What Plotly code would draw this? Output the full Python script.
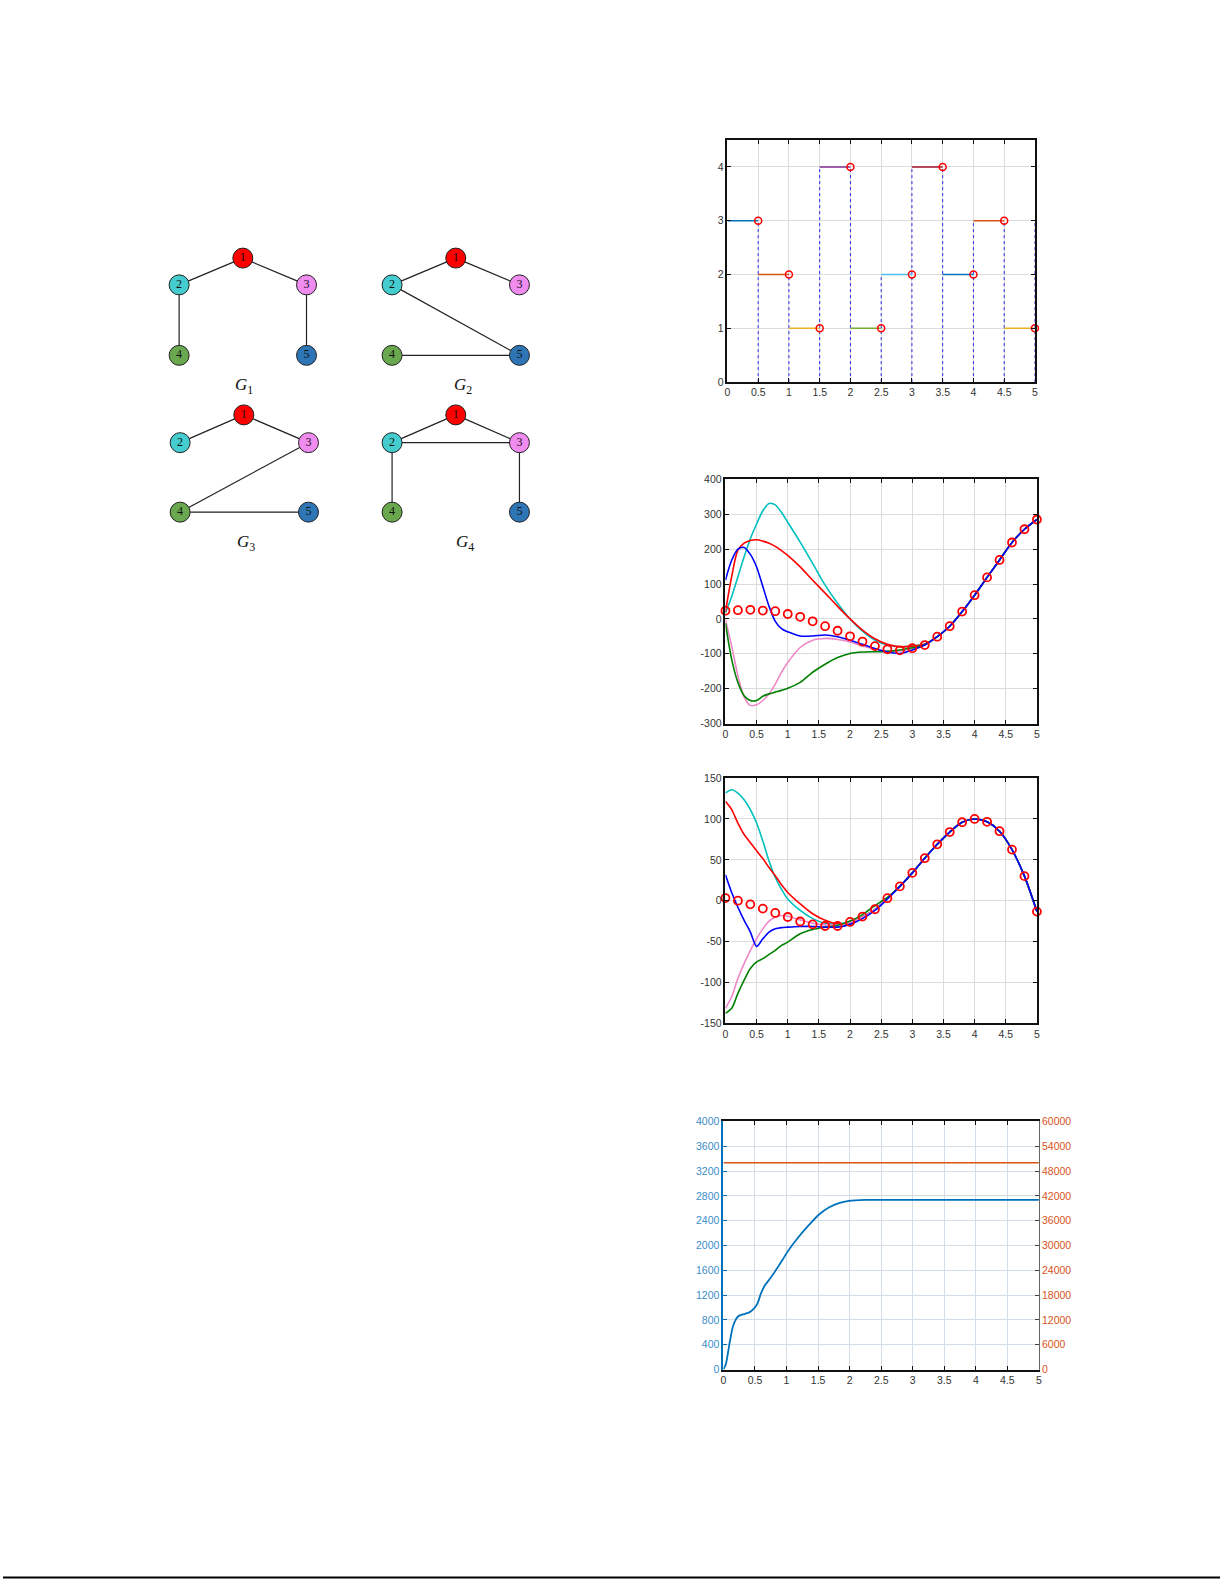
import plotly.graph_objects as go

W, H = 1225, 1585

# ---------------- graph panel data ----------------
node_ids = ["1", "2", "3", "4", "5"]
node_colors = ["#FF0000", "#45CCCF", "#F08CF0", "#6AA84F", "#2E75B6"]
G1_pos = [(241, 254), (177, 281), (305, 281), (177, 352), (305, 352)]
G2_pos = [(455, 254), (391, 281), (519, 281), (391, 352), (519, 352)]
G3_pos = [(242, 412), (178, 440), (307, 440), (178, 510), (307, 510)]
G4_pos = [(455, 412), (391, 440), (519, 440), (391, 510), (519, 510)]
G1_edges = [(1, 2), (1, 3), (2, 4), (3, 5)]
G2_edges = [(1, 2), (1, 3), (2, 5), (4, 5)]
G3_edges = [(1, 2), (1, 3), (3, 4), (4, 5)]
G4_edges = [(1, 2), (1, 3), (2, 3), (2, 4), (3, 5)]
graph_labels = ["1", "2", "3", "4"]
graph_label_pos = [(242, 383), (462, 383), (244, 541), (464, 541)]

# ---------------- chart 1: switching signal ----------------
seg_start = [0, 0.5, 1, 1.5, 2, 2.5, 3, 3.5, 4, 4.5]
seg_end = [0.5, 1, 1.5, 2, 2.5, 3, 3.5, 4, 4.5, 5]
seg_level = [3, 2, 1, 4, 1, 2, 4, 2, 3, 1]
seg_colors = ["#0072BD", "#D95319", "#EDB120", "#7E2F8E", "#77AC30",
              "#4DBEEE", "#A2142F", "#0072BD", "#D95319", "#EDB120"]
stem_x = [0.5, 1, 1.5, 2, 2.5, 3, 3.5, 4, 4.5, 5]
stem_top = [3, 2, 4, 4, 2, 4, 4, 3, 3, 3]
c1_yticks = [0, 1, 2, 3, 4]

# ---------------- chart 2 ----------------
ref_x = [0, 0.2, 0.4, 0.6, 0.8, 1.0, 1.2, 1.4, 1.6, 1.8, 2.0, 2.2, 2.4,
         2.6, 2.8, 3.0, 3.2, 3.4, 3.6, 3.8, 4.0, 4.2, 4.4, 4.6, 4.8, 5.0]
ref2_y = [23.5, 25, 26, 24, 22, 14, 6, -7, -21, -34, -50, -65, -78,
          -87, -90, -84, -75, -51, -21, 21, 68, 119, 169, 219, 257, 285]
c2_x = [0, 0.1, 0.2, 0.3, 0.4, 0.5, 0.6, 0.7, 0.8, 0.9, 1.0, 1.2, 1.4, 1.6,
        1.8, 2.0, 2.2, 2.4, 2.6, 2.8, 3.0, 3.2, 3.4, 3.6, 3.8, 4.0, 4.2,
        4.4, 4.6, 4.8, 5.0]
tail2 = [-51, -21, 21, 68, 119, 169, 219, 257, 285]
blue2 = [111, 168, 200, 205, 185, 149, 93, 36, -7, -28, -37, -49, -49, -46,
         -51, -61, -73, -85, -95, -99, -89, -75] + tail2
red2 = [20, 121, 197, 217, 225, 227, 223, 217, 208, 196, 182, 149, 111, 74,
        36, 0, -32, -57, -73, -80, -78, -72] + tail2
cyan2 = [17, 64, 121, 178, 230, 272, 310, 331, 327, 305, 277, 220, 159, 97,
         45, 0, -35, -61, -75, -80, -78, -72] + tail2
pink2 = [-2, -78, -163, -224, -248, -246, -234, -215, -187, -153, -125, -82,
         -61, -56, -59, -66, -78, -87, -92, -92, -85, -75] + tail2
green2 = [-12, -116, -182, -220, -234, -234, -222, -215, -210, -205, -199,
          -182, -153, -130, -111, -99, -95, -94, -93, -89, -83, -74] + tail2
c2_yticks = [-300, -200, -100, 0, 100, 200, 300, 400]

# ---------------- chart 3 ----------------
ref3_y = [3.2, 0, -4.5, -9.7, -15, -20, -25.5, -29, -31, -31, -26, -19.5,
          -10.5, 3, 17.5, 34, 52, 69, 84, 96, 100, 96.5, 85, 62.5, 30, -13.4]
c3_x = [0, 0.1, 0.2, 0.3, 0.4, 0.5, 0.6, 0.7, 0.8, 0.9, 1.0, 1.2, 1.4, 1.6,
        1.8, 2.0, 2.2, 2.4, 2.6, 2.8, 3.0, 3.2, 3.4, 3.6, 3.8, 4.0, 4.2,
        4.4, 4.6, 4.8, 5.0]
tail3 = [17.5, 34, 52, 69, 84, 96, 100, 96.5, 85, 62.5, 30, -13.4]
blue3 = [31.6, 10, -8, -24, -38.5, -56, -46.6, -38.5, -34.5, -33, -32.4,
         -31.6, -31.6, -32.4, -32.4, -29, -22, -12, 2] + tail3
red3 = [121.6, 111.5, 95, 81, 71, 61, 51.5, 40.5, 30.4, 19.5, 10, -4, -16,
        -24, -28.4, -27.6, -20, -11, 3] + tail3
cyan3 = [131.7, 135.8, 131.7, 123.6, 111.5, 95, 73, 48.6, 28.4, 14, 2, -12,
         -22, -27.6, -28.4, -26.3, -19.5, -10.5, 3] + tail3
pink3 = [-131.7, -117.6, -95, -77, -60.8, -46.6, -34.5, -25, -20.3, -18.2,
         -19, -23.5, -27.6, -29.6, -29.6, -26.8, -20, -11, 3] + tail3
green3 = [-137.8, -131.7, -113.5, -97.3, -83, -75, -71, -65.7, -60.8, -54.7,
          -50.7, -40.5, -35.3, -32.4, -30, -25, -17, -6, 4] + tail3
c3_yticks = [-150, -100, -50, 0, 50, 100, 150]

# ---------------- chart 4 ----------------
c4_x = [0, 0.04, 0.095, 0.147, 0.2, 0.25, 0.33, 0.41, 0.49, 0.54, 0.59,
        0.65, 0.73, 0.83, 0.94, 1.04, 1.2, 1.36, 1.51, 1.67, 1.83, 1.99,
        2.25, 3.0, 4.0, 5.0]
c4_y = [0, 96, 416, 683, 816, 870, 896, 923, 992, 1067, 1216, 1349, 1456,
        1600, 1776, 1936, 2149, 2336, 2496, 2613, 2683, 2720, 2736, 2736,
        2736, 2736]
c4r_x = [0, 5]
c4r_y = [50000, 50000]
c4_lticks = [0, 400, 800, 1200, 1600, 2000, 2400, 2800, 3200, 3600, 4000]
c4_rticks = [0, 6000, 12000, 18000, 24000, 30000, 36000, 42000, 48000, 54000, 60000]

x_ticks = [0, 0.5, 1, 1.5, 2, 2.5, 3, 3.5, 4, 4.5, 5]
x_ticktext = ["0", "0.5", "1", "1.5", "2", "2.5", "3", "3.5", "4", "4.5", "5"]

BLUE_M = "#0072BD"
ORANGE_M = "#D95319"

fig = go.Figure()


def dom_x(a, b):
    return [a / W, b / W]


def dom_y(top, bottom):
    return [1 - bottom / H, 1 - top / H]


def lbl(v):
    return str(v).replace("\u2212", "-")


# ---------- graph panel ----------
graphs = [(G1_pos, G1_edges), (G2_pos, G2_edges), (G3_pos, G3_edges), (G4_pos, G4_edges)]
for pos, edges in graphs:
    ex, ey = [], []
    for a, b in edges:
        ex += [pos[a - 1][0], pos[b - 1][0], None]
        ey += [pos[a - 1][1], pos[b - 1][1], None]
    fig.add_trace(go.Scatter(x=ex, y=ey, mode="lines", xaxis="x5", yaxis="y5",
                             line=dict(color="#222222", width=1.2),
                             showlegend=False, hoverinfo="skip"))
    fig.add_trace(go.Scatter(x=[p[0] for p in pos], y=[p[1] for p in pos],
                             mode="markers+text", xaxis="x5", yaxis="y5",
                             text=node_ids, textposition="middle center",
                             textfont=dict(family="Liberation Serif", size=12, color="#111111"),
                             marker=dict(size=20, color=node_colors,
                                         line=dict(color="#222222", width=1)),
                             showlegend=False, hoverinfo="skip"))

for lab, (lx, ly) in zip(graph_labels, graph_label_pos):
    fig.add_annotation(x=lx, y=ly, xref="x5", yref="y5", showarrow=False,
                       text=f"<i>G</i><sub>{lab}</sub>",
                       font=dict(family="Liberation Serif", size=17, color="#111111"))

# ---------- chart 1 ----------
sx, sy = [], []
for xv, top in zip(stem_x, stem_top):
    sx += [xv, xv, None]
    sy += [0, top, None]
fig.add_trace(go.Scatter(x=sx, y=sy, mode="lines", xaxis="x", yaxis="y",
                         line=dict(color="#2A2AE6", width=1, dash="dot"),
                         showlegend=False))
for a, b, lv, col in zip(seg_start, seg_end, seg_level, seg_colors):
    fig.add_trace(go.Scatter(x=[a, b], y=[lv, lv], mode="lines", xaxis="x", yaxis="y",
                             line=dict(color=col, width=1.5), showlegend=False))
fig.add_trace(go.Scatter(x=seg_end, y=seg_level, mode="markers", xaxis="x", yaxis="y",
                         marker=dict(symbol="circle-open", size=7, color="#FF0000",
                                     line=dict(width=1.5)),
                         showlegend=False, cliponaxis=False))

# ---------- chart 2 ----------
curve_cols = {"cyan": "#00BFBF", "red": "#FF0000", "pink": "#F088C8",
              "green": "#008000", "blue": "#0000FF"}
for ys, col in [(cyan2, "cyan"), (red2, "red"), (pink2, "pink"), (green2, "green"), (blue2, "blue")]:
    fig.add_trace(go.Scatter(x=c2_x, y=ys, mode="lines", xaxis="x2", yaxis="y2",
                             line=dict(color=curve_cols[col], width=1.6, shape="spline", smoothing=0.8),
                             showlegend=False))
fig.add_trace(go.Scatter(x=ref_x, y=ref2_y, mode="markers", xaxis="x2", yaxis="y2",
                         marker=dict(symbol="circle-open", size=8, color="#FF0000",
                                     line=dict(width=1.8)),
                         showlegend=False, cliponaxis=False))

# ---------- chart 3 ----------
for ys, col in [(cyan3, "cyan"), (red3, "red"), (pink3, "pink"), (green3, "green"), (blue3, "blue")]:
    fig.add_trace(go.Scatter(x=c3_x, y=ys, mode="lines", xaxis="x3", yaxis="y3",
                             line=dict(color=curve_cols[col], width=1.6, shape="spline", smoothing=0.8),
                             showlegend=False))
fig.add_trace(go.Scatter(x=ref_x, y=ref3_y, mode="markers", xaxis="x3", yaxis="y3",
                         marker=dict(symbol="circle-open", size=8, color="#FF0000",
                                     line=dict(width=1.8)),
                         showlegend=False, cliponaxis=False))

# ---------- chart 4 ----------
fig.add_trace(go.Scatter(x=c4r_x, y=c4r_y, mode="lines", xaxis="x4", yaxis="y6",
                         line=dict(color=ORANGE_M, width=1.5), showlegend=False))
fig.add_trace(go.Scatter(x=c4_x, y=c4_y, mode="lines", xaxis="x4", yaxis="y4",
                         line=dict(color=BLUE_M, width=1.8, shape="spline", smoothing=0.7),
                         showlegend=False))

tickfont = dict(family="Liberation Sans", size=10.5, color="#333333")
grid = "#DCDCDC"


def xstyle(dom, anchor, gridcolor=grid):
    return dict(domain=dom, anchor=anchor, range=[0, 5],
                tickmode="array", tickvals=x_ticks, ticktext=x_ticktext,
                showline=True, linecolor="#111111", linewidth=1.5, mirror="ticks",
                ticks="inside", ticklen=4, tickcolor="#111111",
                showgrid=True, gridcolor=gridcolor, gridwidth=1, zeroline=False,
                tickfont=tickfont, fixedrange=True)


def ystyle(dom, anchor, rng, ticks):
    return dict(domain=dom, anchor=anchor, range=rng,
                tickmode="array", tickvals=ticks, ticktext=[lbl(t) for t in ticks],
                showline=True, linecolor="#111111", linewidth=1.5, mirror="ticks",
                ticks="inside", ticklen=4, tickcolor="#111111",
                showgrid=True, gridcolor=grid, gridwidth=1, zeroline=False,
                tickfont=tickfont, fixedrange=True)


layout = dict(
    width=W, height=H, margin=dict(l=0, r=0, t=0, b=0),
    paper_bgcolor="white", plot_bgcolor="white", showlegend=False,
    xaxis=xstyle(dom_x(728, 1037), "y"),
    yaxis=ystyle(dom_y(135, 379), "x", [0, 4.5], c1_yticks),
    xaxis2=xstyle(dom_x(726, 1039), "y2"),
    yaxis2=ystyle(dom_y(477, 723), "x2", [-300, 400], c2_yticks),
    xaxis3=xstyle(dom_x(726, 1039), "y3"),
    yaxis3=ystyle(dom_y(778, 1025), "x3", [-150, 150], c3_yticks),
    xaxis4=xstyle(dom_x(724, 1041), "y4", "#D3DEE8"),
    yaxis4=dict(domain=dom_y(1124, 1374), anchor="x4", range=[0, 4000],
                tickmode="array", tickvals=c4_lticks, ticktext=[str(t) for t in c4_lticks],
                showline=True, linecolor=BLUE_M, linewidth=2, mirror=False,
                ticks="inside", ticklen=4, tickcolor=BLUE_M,
                showgrid=True, gridcolor="#D3DEE8", zeroline=False,
                tickfont=dict(family="Liberation Sans", size=10.5, color="#3A8DC9"),
                fixedrange=True),
    yaxis6=dict(overlaying="y4", anchor="x4", side="right", range=[0, 60000],
                tickmode="array", tickvals=c4_rticks, ticktext=[str(t) for t in c4_rticks],
                showline=True, linecolor="#666666", linewidth=1,
                ticks="inside", ticklen=4, tickcolor="#444444", showgrid=False,
                zeroline=False,
                tickfont=dict(family="Liberation Sans", size=10.5, color=ORANGE_M),
                fixedrange=True),
    xaxis5=dict(domain=dom_x(155, 535), anchor="y5", range=[155, 535], visible=False,
                fixedrange=True),
    yaxis5=dict(domain=dom_y(230, 560), anchor="x5", range=[560, 230], visible=False,
                fixedrange=True),
)
fig.update_layout(**layout)

# bottom rule line of the page
fig.add_shape(type="line", xref="paper", yref="paper", x0=0, x1=1223 / W,
              y0=1 - 1583.5 / H, y1=1 - 1583.5 / H, line=dict(color="black", width=2))

fig.write_html("out.html", config={"displayModeBar": False},
               post_script="document.body.style.margin='0';document.body.style.overflow='hidden';")
